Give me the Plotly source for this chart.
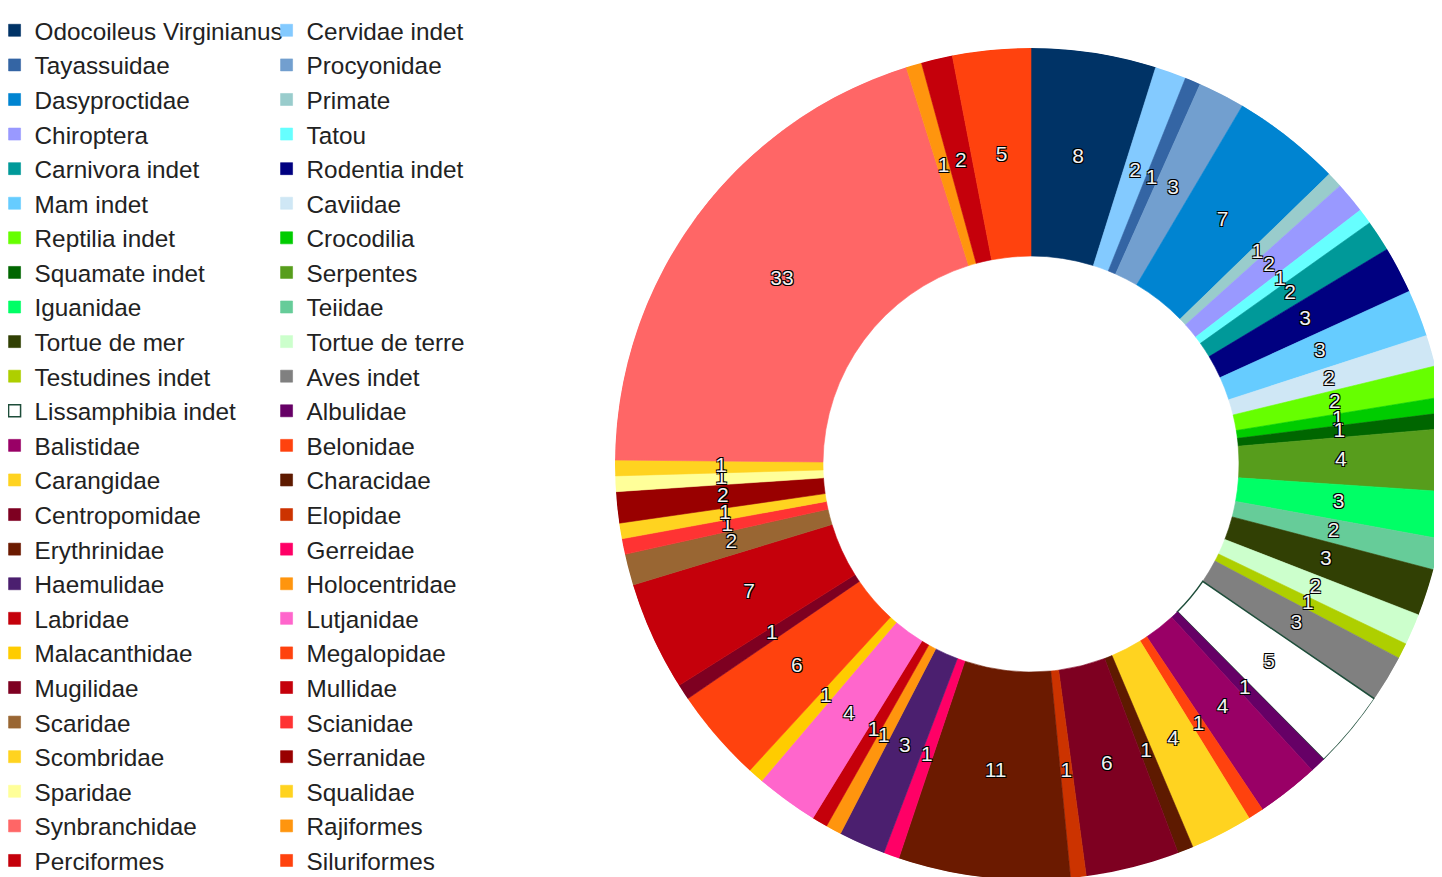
import numpy as np
import plotly.graph_objects as go

# taxa in legend order (row-major, two columns)
taxa = [
    "Odocoileus Virginianus", "Cervidae indet", "Tayassuidae", "Procyonidae",
    "Dasyproctidae", "Primate", "Chiroptera", "Tatou", "Carnivora indet",
    "Rodentia indet", "Mam indet", "Caviidae", "Reptilia indet", "Crocodilia",
    "Squamate indet", "Serpentes", "Iguanidae", "Teiidae", "Tortue de mer",
    "Tortue de terre", "Testudines indet", "Aves indet", "Lissamphibia indet",
    "Albulidae", "Balistidae", "Belonidae", "Carangidae", "Characidae",
    "Centropomidae", "Elopidae", "Erythrinidae", "Gerreidae", "Haemulidae",
    "Holocentridae", "Labridae", "Lutjanidae", "Malacanthidae", "Megalopidae",
    "Mugilidae", "Mullidae", "Scaridae", "Scianidae", "Scombridae",
    "Serranidae", "Sparidae", "Squalidae", "Synbranchidae", "Rajiformes",
    "Perciformes", "Siluriformes",
]

counts = [
    8, 2, 1, 3, 7, 1, 2, 1, 2, 3,
    3, 2, 2, 1, 1, 4, 3, 2, 3, 2,
    1, 3, 5, 1, 4, 1, 4, 1, 6, 1,
    11, 1, 3, 1, 1, 4, 1, 6, 1, 7,
    2, 1, 1, 2, 1, 1, 33, 1, 2, 5,
]

colors = [
    "#003366", "#83caff", "#3465a4", "#729fcf", "#0084d1", "#99cccc",
    "#9999ff", "#66ffff", "#009999", "#000080", "#66ccff", "#cfe7f5",
    "#66ff00", "#00cc00", "#006600", "#579d1c", "#00ff66", "#66cc99",
    "#314004", "#ccffcc", "#aecf00", "#808080", "#ffffff", "#660066",
    "#990066", "#ff420e", "#ffd320", "#5e1a00", "#7e0021", "#cc3300",
    "#6b1a00", "#ff0066", "#4b1f6f", "#ff950e", "#c5000b", "#ff66cc",
    "#ffcc00", "#ff420e", "#7e0021", "#c5000b", "#996633", "#ff3333",
    "#ffd320", "#990000", "#ffff99", "#ffd320", "#ff6666", "#ff950e",
    "#c5000b", "#ff420e",
]

vals = np.array(counts, dtype=float)
deg = vals / vals.sum() * 360.0
mid = np.cumsum(deg) - deg / 2

fig = go.Figure()
for i, name in enumerate(taxa):
    white = colors[i] == "#ffffff"
    fig.add_trace(go.Barpolar(
        r=[0.5], base=[0.5], theta=[mid[i]], width=[deg[i]],
        name=name,
        marker=dict(color=colors[i],
                    line=dict(color="#1e4d3a" if white else colors[i], width=1.5 if white else 0.6)),
        hoverinfo="name",
    ))

# value labels at mid-ring
fig.add_trace(go.Scatterpolar(
    r=[0.745] * len(counts), theta=mid, text=[str(c) for c in counts],
    mode="text", showlegend=False, hoverinfo="skip",
    textfont=dict(family="Liberation Sans", size=21, color="#f2f2f2",
                  shadow="1px 1px 0 #000, -1px -1px 0 #000, 1px -1px 0 #000, -1px 1px 0 #000"),
))

fig.update_layout(
    width=1442, height=877,
    margin=dict(l=607, r=3, t=40, b=5, autoexpand=False),
    paper_bgcolor="white",
    polar=dict(
        domain=dict(x=[0, 1], y=[0, 1]),
        bgcolor="rgba(0,0,0,0)",
        bargap=0,
        radialaxis=dict(range=[0, 1], visible=False),
        angularaxis=dict(visible=False, rotation=90, direction="clockwise"),
    ),
    legend=dict(
        orientation="h", xref="paper", x=-0.7457, xanchor="left",
        yref="container", y=1, yanchor="top",
        entrywidth=227, entrywidthmode="pixels", maxheight=1,
        font=dict(family="Liberation Sans", size=24.3, color="#222222"),
        bgcolor="rgba(0,0,0,0)",
    ),
    font=dict(family="Liberation Sans"),
)

fig.write_html("out.html")
